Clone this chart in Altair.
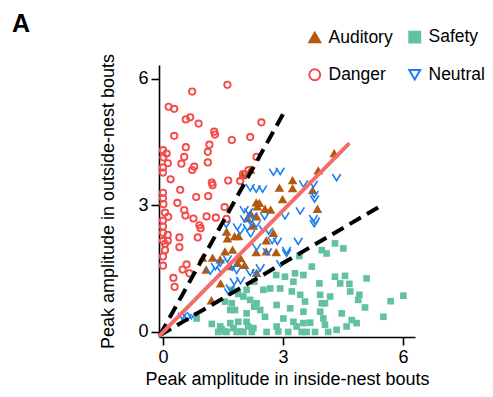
import altair as alt
import pandas as pd

# ---- data ----
danger_x = [1.61, 0.73, 0.14, 0.28, 0.57, 0.68, 0.89, 1.28, 1.30, 0.28, 1.72, 2.18, 2.46,
            1.16, 0.57, 1.12, 0.00, 0.09, 0.53, 0.01, 0.46, 0.78, 0.73, 1.12, 0.12, 0.00,
            0.00, 0.19, 1.63, 1.22, 1.24, 2.34, 2.14, 2.00, 1.93, 0.43, 0.83, 1.13, 0.00,
            0.00, 0.01, 0.36, 0.53, 0.56, 0.76, 0.05, 0.13, 0.00, 1.54, 1.09, 1.32, 1.59,
            0.91, 0.94, 0.00, 0.00, 0.12, 0.41, 0.87, 0.00, 0.12, 0.05, 0.41, 0.05, 0.00,
            0.00, 0.59, 0.49, 0.66, 0.26, 0.29]
danger_y = [5.86, 5.70, 5.34, 5.29, 5.04, 5.09, 4.94, 4.75, 4.68, 4.65, 4.55, 4.62, 4.97,
            4.44, 4.38, 4.27, 4.31, 4.23, 4.15, 4.14, 3.99, 3.92, 3.84, 4.02, 4.00, 3.90,
            3.78, 3.62, 3.59, 3.54, 3.48, 4.15, 3.84, 3.74, 3.58, 3.37, 3.20, 3.22, 3.30,
            3.17, 3.03, 3.06, 2.89, 2.76, 2.69, 2.83, 2.73, 2.64, 2.96, 2.74, 2.71, 2.68,
            2.53, 2.46, 2.50, 2.35, 2.30, 2.24, 2.24, 2.16, 2.16, 2.09, 2.01, 1.94, 1.79,
            1.57, 1.60, 1.48, 1.39, 1.28, 1.07]

neutral_x = [2.76, 2.93, 4.34, 2.18, 2.33, 2.49, 3.51, 3.76, 3.78, 3.79, 3.43, 3.05, 3.76,
             3.81, 3.78, 2.03, 2.14, 2.24, 2.04, 2.18, 2.33, 2.54, 1.58, 1.86, 1.93, 2.11,
             2.51, 2.64, 2.19, 2.73, 2.86, 3.38, 3.09, 2.61, 2.34, 1.61, 1.43, 1.31, 1.18,
             1.46, 1.73, 1.84, 2.18, 2.33, 2.43, 2.94, 1.78, 1.94, 1.68, 1.64, 0.48, 0.61,
             0.71, 3.09]
neutral_y = [3.80, 3.82, 3.67, 3.43, 3.40, 3.40, 3.52, 3.51, 3.27, 3.16, 2.88, 2.76, 2.70,
             2.64, 2.58, 2.91, 2.86, 2.76, 2.69, 2.64, 2.56, 2.75, 2.56, 2.50, 2.40, 2.48,
             2.45, 2.40, 2.34, 2.18, 2.16, 2.16, 1.94, 1.91, 2.02, 1.74, 1.64, 1.56, 1.45,
             1.47, 1.55, 1.47, 1.42, 1.41, 1.53, 1.63, 1.20, 1.23, 1.05, 0.96, 0.38, 0.35,
             0.40, 1.88]

auditory_x = [4.28, 3.88, 2.19, 1.99, 3.24, 3.24, 2.91, 2.99, 3.74, 2.33, 2.41, 2.36, 2.55,
              2.69, 2.19, 3.86, 2.34, 2.11, 2.26, 1.59, 1.79, 1.89, 1.61, 2.76, 2.58, 2.33,
              2.58, 2.83, 1.74, 1.55, 0.99, 1.24, 1.43, 1.08, 1.94, 2.04, 1.86, 1.68, 1.44,
              2.34, 1.21]
auditory_y = [4.23, 3.82, 3.84, 3.71, 3.59, 3.40, 3.41, 3.14, 3.35, 3.06, 3.05, 2.97, 2.91,
              2.89, 2.80, 2.91, 2.73, 2.69, 2.51, 2.37, 2.26, 2.26, 2.21, 2.34, 2.16, 1.88,
              1.90, 1.88, 1.94, 1.90, 1.75, 1.75, 1.71, 1.47, 1.74, 1.58, 1.63, 1.55, 1.14,
              1.39, 0.74]

safety_x = [4.30, 4.51, 3.97, 4.09, 3.41, 3.72, 2.83, 3.05, 3.30, 3.51, 4.30, 4.55, 5.09,
            3.26, 3.91, 4.43, 4.66, 2.28, 2.51, 2.68, 2.93, 3.22, 4.68, 4.91, 3.93, 3.43,
            4.18, 4.05, 6.01, 5.69, 4.88, 5.05, 3.55, 3.97, 2.84, 3.18, 2.43, 2.09, 2.28,
            3.51, 3.93, 4.01, 4.47, 4.72, 4.84, 5.51, 3.26, 3.51, 3.68, 4.05, 3.13, 3.47,
            3.80, 4.13, 2.59, 2.09, 2.13, 0.84, 1.22, 1.47, 1.59, 1.76, 1.93, 2.26, 1.68,
            1.88, 1.72, 1.55, 1.68, 1.80, 2.01, 2.18, 2.34, 1.88, 2.09, 1.72, 2.22, 2.88,
            4.59, 4.34, 3.01, 2.55, 1.55, 1.38, 1.84, 2.01, 1.43, 2.84, 3.59, 3.34]
safety_y = [2.10, 1.98, 1.94, 1.86, 1.80, 1.55, 1.35, 1.31, 1.39, 1.35, 1.31, 1.33, 1.27,
            1.19, 1.15, 1.15, 1.14, 1.19, 1.00, 1.03, 1.03, 0.96, 0.96, 0.88, 0.88, 0.88,
            0.84, 0.68, 0.86, 0.73, 0.76, 0.58, 0.72, 0.68, 0.64, 0.56, 0.52, 0.44, 0.60,
            0.48, 0.48, 0.32, 0.44, 0.28, 0.21, 0.36, 0.24, 0.21, 0.22, 0.17, 0.00, 0.00,
            0.00, 0.00, 0.00, 0.24, 0.13, 0.32, 0.19, 0.06, 0.00, 0.09, 0.01, 0.09, 0.21,
            0.24, 0.68, 0.72, 0.52, 0.52, 0.84, 0.76, 0.68, 0.90, 1.00, 1.00, 0.00, 0.01,
            0.13, 0.05, 0.32, 0.36, 0.01, 0.00, 0.00, 0.00, 0.13, 0.13, 0.00, 0.13]

# reference lines (endpoints)
fit_x = [-0.08, 4.63]
fit_y = [-0.08, 4.45]
upper_x = [-0.08, 3.01]
upper_y = [-0.08, 5.18]
lower_x = [-0.08, 5.41]
lower_y = [-0.08, 2.97]

categories = ["Auditory", "Safety", "Danger", "Neutral"]
stroke_colors = ["#b5590f", "#62c19f", "#f44b4b", "#1a7ff0"]
fill_colors = ["#b5590f", "#62c19f", "transparent", "transparent"]
shapes = ["triangle-up", "square", "circle", "triangle-down"]

FONT = "Liberation Sans"

main = pd.concat([
    pd.DataFrame({"x": auditory_x, "y": auditory_y, "group": "Auditory"}),
    pd.DataFrame({"x": danger_x, "y": danger_y, "group": "Danger"}),
], ignore_index=True)
safety = pd.DataFrame({"x": safety_x, "y": safety_y})
neutral = pd.DataFrame({"x": neutral_x, "y": neutral_y})

lines = pd.concat([
    pd.DataFrame({"x": upper_x, "y": upper_y, "line": "upper"}),
    pd.DataFrame({"x": lower_x, "y": lower_y, "line": "lower"}),
], ignore_index=True)
fit = pd.DataFrame({"x": fit_x, "y": fit_y})

xscale = alt.Scale(domain=[-0.1, 6.3], nice=False, zero=False)
yscale = alt.Scale(domain=[-0.12, 6.33], nice=False, zero=False)

xenc = alt.X("x:Q", scale=xscale,
             axis=alt.Axis(values=[0, 3, 6], title="Peak amplitude in inside-nest bouts"))
yenc = alt.Y("y:Q", scale=yscale,
             axis=alt.Axis(values=[0, 3, 6], title="Peak amplitude in outside-nest bouts"))

legend = alt.Legend(
    title=None, orient="none", legendX=147, legendY=-37, columns=2, direction="horizontal",
    symbolSize=120, symbolStrokeWidth=2, labelFontSize=17.5, labelFont=FONT,
    labelColor="black", labelOffset=5, rowPadding=18, columnPadding=12,
)

safety_pts = alt.Chart(safety).mark_square(size=44, color="#62c19f", opacity=1).encode(
    x=xenc, y=yenc)

pts = alt.Chart(main).mark_point(size=40, strokeWidth=1.9, opacity=1).encode(
    x=xenc, y=yenc,
    shape=alt.Shape("group:N", scale=alt.Scale(domain=categories, range=shapes), legend=legend),
    fill=alt.Fill("group:N", scale=alt.Scale(domain=categories, range=fill_colors), legend=legend),
    stroke=alt.Stroke("group:N", scale=alt.Scale(domain=categories, range=stroke_colors), legend=legend),
)

vpts = alt.Chart(neutral).mark_point(
    shape="M-1,-0.75L0,0.85L1,-0.75", size=70, strokeWidth=1.6,
    stroke="#1a7ff0", filled=False, opacity=1,
).encode(x=xenc, y=yenc)

dashed = alt.Chart(lines).mark_line(
    color="black", strokeWidth=4, strokeDash=[13, 7], strokeCap="butt"
).encode(x=xenc, y=yenc, detail="line:N")

fitline = alt.Chart(fit).mark_line(
    color="#f46d6d", strokeWidth=4, strokeCap="round"
).encode(x=xenc, y=yenc)

chart = alt.layer(safety_pts, pts, vpts, dashed, fitline).properties(
    width=256, height=272,
    title=alt.TitleParams("A", anchor="start", frame="group", fontSize=25, fontWeight="bold",
                          font=FONT, color="black", dx=-147, offset=0, dy=29,
                          baseline="alphabetic"),
    autosize=alt.AutoSizeParams(type="none"),
    padding={"left": 151, "top": 57, "right": 70, "bottom": 52},
).configure_view(stroke=None).configure_axis(
    grid=False, labelFont=FONT, titleFont=FONT, labelFontSize=18, titleFontSize=18,
    labelColor="black", titleColor="black", domainColor="black", tickColor="black",
    domainWidth=1.6, tickWidth=1.6, tickSize=8, titleFontWeight="normal",
    labelPadding=3,
).configure_axisY(titlePadding=20).configure_axisX(titlePadding=4)

chart.save("out.html", embed_options={"renderer": "svg", "actions": False})
